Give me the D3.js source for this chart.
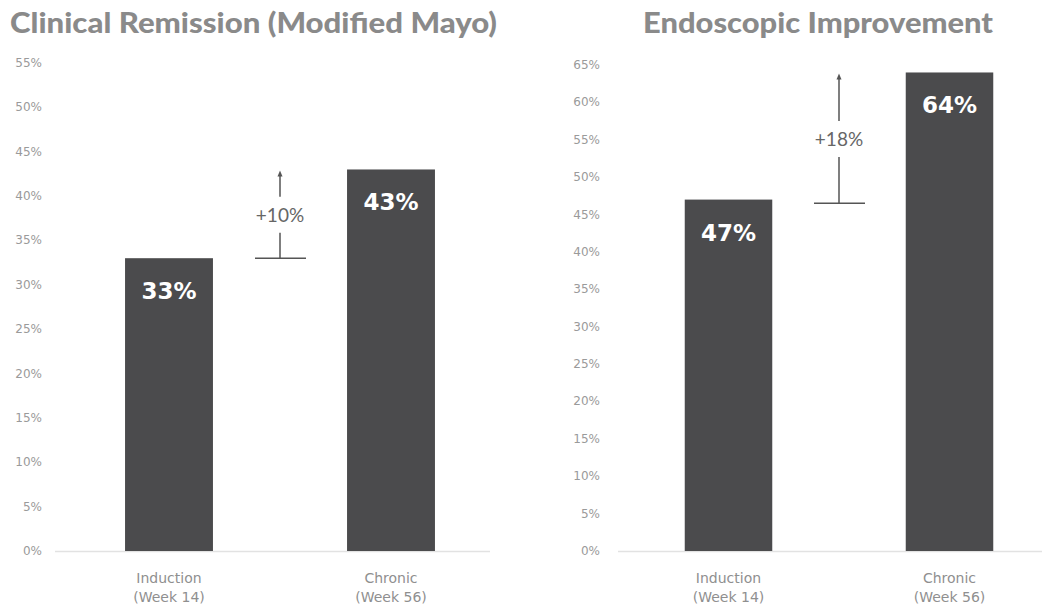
<!DOCTYPE html>
<html><head><meta charset="utf-8">
<script src="https://cdn.jsdelivr.net/npm/d3@7"></script>
<style>body{margin:0;background:#fff;} svg{display:block;}</style>
</head><body>
<svg id="c" width="1051" height="610"></svg>
<script>
const categories = ["Induction|(Week 14)", "Chronic|(Week 56)"];
const remissionValues = [33, 43];
const endoscopicValues = [47, 64];
const remissionTicks = [0,5,10,15,20,25,30,35,40,45,50,55];
const endoscopicTicks = [0,5,10,15,20,25,30,35,40,45,50,55,60,65];
const titles = ["Clinical Remission (Modified Mayo)", "Endoscopic Improvement"];
const deltas = ["+10%", "+18%"];
const deltaBase = [33, 46.5];

const svg = d3.select("#c");
const barColor = "#4b4b4d";
const font = "Lato, 'Open Sans', sans-serif";
const wide = "'DejaVu Sans', sans-serif";

const panels = [
  {title: titles[0], titleX: 10, titleW: 487, values: remissionValues, ticks: remissionTicks, max: 55,
   yTop: 63, labelX: 42, xRange: [58, 502], axisX: [55, 490], delta: deltas[0], base: deltaBase[0]},
  {title: titles[1], titleX: 643, titleW: 350, values: endoscopicValues, ticks: endoscopicTicks, max: 65,
   yTop: 65, labelX: 600, xRange: [618, 1060], axisX: [618, 1042], delta: deltas[1], base: deltaBase[1]}
];
const yBottom = 551;

panels.forEach(p => {
  const g = svg.append("g");
  const y = d3.scaleLinear().domain([0, p.max]).range([yBottom, p.yTop]);
  const x = d3.scaleBand().domain(categories).range(p.xRange).paddingInner(0.604).paddingOuter(0.302);

  g.append("text").attr("x", p.titleX).attr("y", 33)
    .attr("textLength", p.titleW).attr("lengthAdjust", "spacingAndGlyphs")
    .attr("font-family", font).attr("font-weight", 900).attr("font-size", 28)
    .attr("fill", "#8a8a8a").text(p.title);

  // y tick labels
  g.selectAll("text.tick").data(p.ticks).enter().append("text")
    .attr("x", p.labelX).attr("y", d => y(d) + 4).attr("text-anchor", "end")
    .attr("font-family", wide).attr("font-size", 12).attr("fill", "#9a9a9a")
    .text(d => d + "%");

  // baseline
  g.append("line").attr("x1", p.axisX[0]).attr("x2", p.axisX[1])
    .attr("y1", yBottom + 0.5).attr("y2", yBottom + 0.5).attr("stroke", "#e2e2e2").attr("stroke-width", 1.5);

  // bars
  g.selectAll("rect").data(p.values).enter().append("rect")
    .attr("x", (d, i) => x(categories[i])).attr("width", x.bandwidth())
    .attr("y", d => y(d)).attr("height", d => yBottom - y(d)).attr("fill", barColor);

  // value labels
  g.selectAll("text.val").data(p.values).enter().append("text")
    .attr("x", (d, i) => x(categories[i]) + x.bandwidth() / 2).attr("y", d => y(d) + 41)
    .attr("text-anchor", "middle").attr("font-family", wide).attr("font-weight", 700)
    .attr("font-size", 23).attr("fill", "#fff").text(d => d + "%");

  // category labels
  categories.forEach((c, i) => {
    const parts = c.split("|");
    const cx = x(c) + x.bandwidth() / 2;
    parts.forEach((t, j) => {
      g.append("text").attr("x", cx).attr("y", 583 + j * 19).attr("text-anchor", "middle")
        .attr("font-family", wide).attr("font-size", 14).attr("fill", "#8f8f8f").text(t);
    });
  });

  // delta annotation
  const mx = (x(categories[0]) + x.bandwidth() + x(categories[1])) / 2;
  const yb = y(p.base), yt = y(p.values[1]) + 2;
  const ym = (yb + yt) / 2;
  g.append("line").attr("x1", mx - 25).attr("x2", mx + 26).attr("y1", yb).attr("y2", yb)
    .attr("stroke", "#555").attr("stroke-width", 1.5);
  g.append("line").attr("x1", mx).attr("x2", mx).attr("y1", yb).attr("y2", ym + 18)
    .attr("stroke", "#555").attr("stroke-width", 1.5);
  g.append("line").attr("x1", mx).attr("x2", mx).attr("y1", ym - 18).attr("y2", yt + 4)
    .attr("stroke", "#555").attr("stroke-width", 1.5);
  g.append("path").attr("d", `M${mx - 2.5},${yt + 5} L${mx},${yt - 1} L${mx + 2.5},${yt + 5} Z`).attr("fill", "#555");
  g.append("text").attr("x", mx).attr("y", ym + 7).attr("text-anchor", "middle")
    .attr("font-family", font).attr("font-size", 19).attr("fill", "#666").text(p.delta);
});
</script>
</body></html>
